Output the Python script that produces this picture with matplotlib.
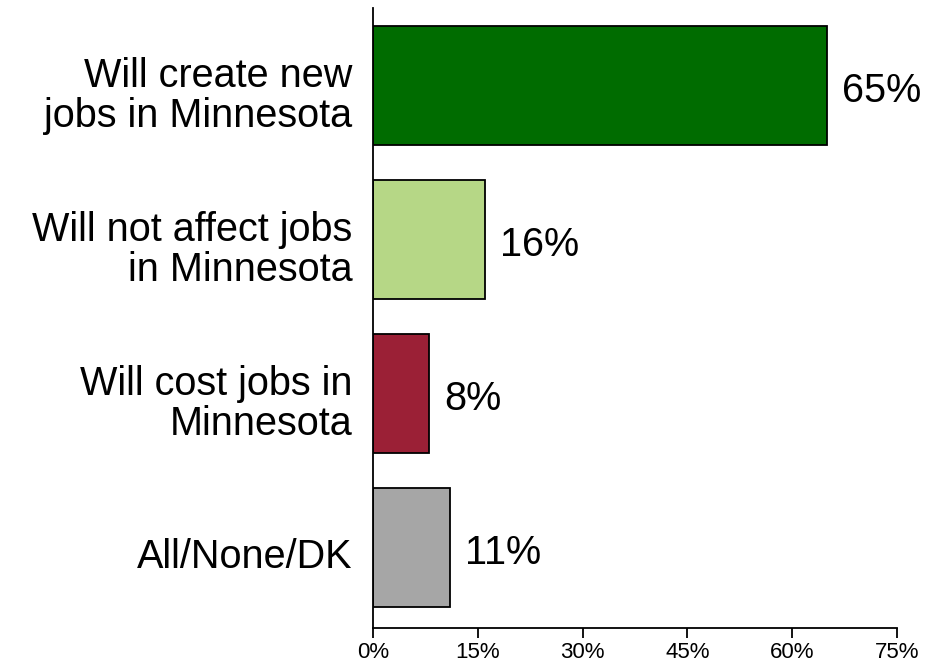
import matplotlib.pyplot as plt
import matplotlib.transforms as mtransforms
from matplotlib.ticker import FuncFormatter

plt.rcParams['font.family'] = ['Liberation Sans', 'DejaVu Sans']

categories = ['Will create new\njobs in Minnesota',
              'Will not affect jobs\nin Minnesota',
              'Will cost jobs in\nMinnesota',
              'All/None/DK']
values = [65, 16, 8, 11]
colors = ['#006c00', '#b6d786', '#9b2036', '#a6a6a6']
xticks = [0, 15, 30, 45, 60, 75]

fig = plt.figure(figsize=(9.29, 6.63), dpi=100)
ax = fig.add_axes([0.4015, 0.0528, 0.564, 0.9352])

ypos = list(range(len(categories)))
bars = ax.barh(ypos, values, height=0.773, color=colors, edgecolor='black', linewidth=1.3)

for b, v in zip(bars, values):
    ax.annotate(f'{v}%', (b.get_width(), b.get_y() + b.get_height() / 2),
                xytext=(11, -4), textcoords='offset points',
                ha='left', va='center', fontsize=28.5)

ax.set_ylim(3.526, -0.503)
ax.set_xlim(0, 75)
ax.set_xticks(xticks)
ax.xaxis.set_major_formatter(FuncFormatter(lambda x, _: f'{x:.0f}%'))
ax.tick_params(axis='x', direction='out', length=7, width=1.3, labelsize=16, pad=3)

ax.set_yticks(ypos)
ax.set_yticklabels(categories, fontsize=28.5, multialignment='right', linespacing=1.08)
ax.tick_params(axis='y', length=0, pad=15)
# nudge category labels down a little
shift = mtransforms.ScaledTranslation(0, -4 / 72, fig.dpi_scale_trans)
for lbl in ax.get_yticklabels():
    lbl.set_transform(lbl.get_transform() + shift)

for s in ['top', 'right']:
    ax.spines[s].set_visible(False)
ax.spines['left'].set_linewidth(1.3)
ax.spines['bottom'].set_linewidth(1.3)

fig.savefig('out.png', dpi=100)
